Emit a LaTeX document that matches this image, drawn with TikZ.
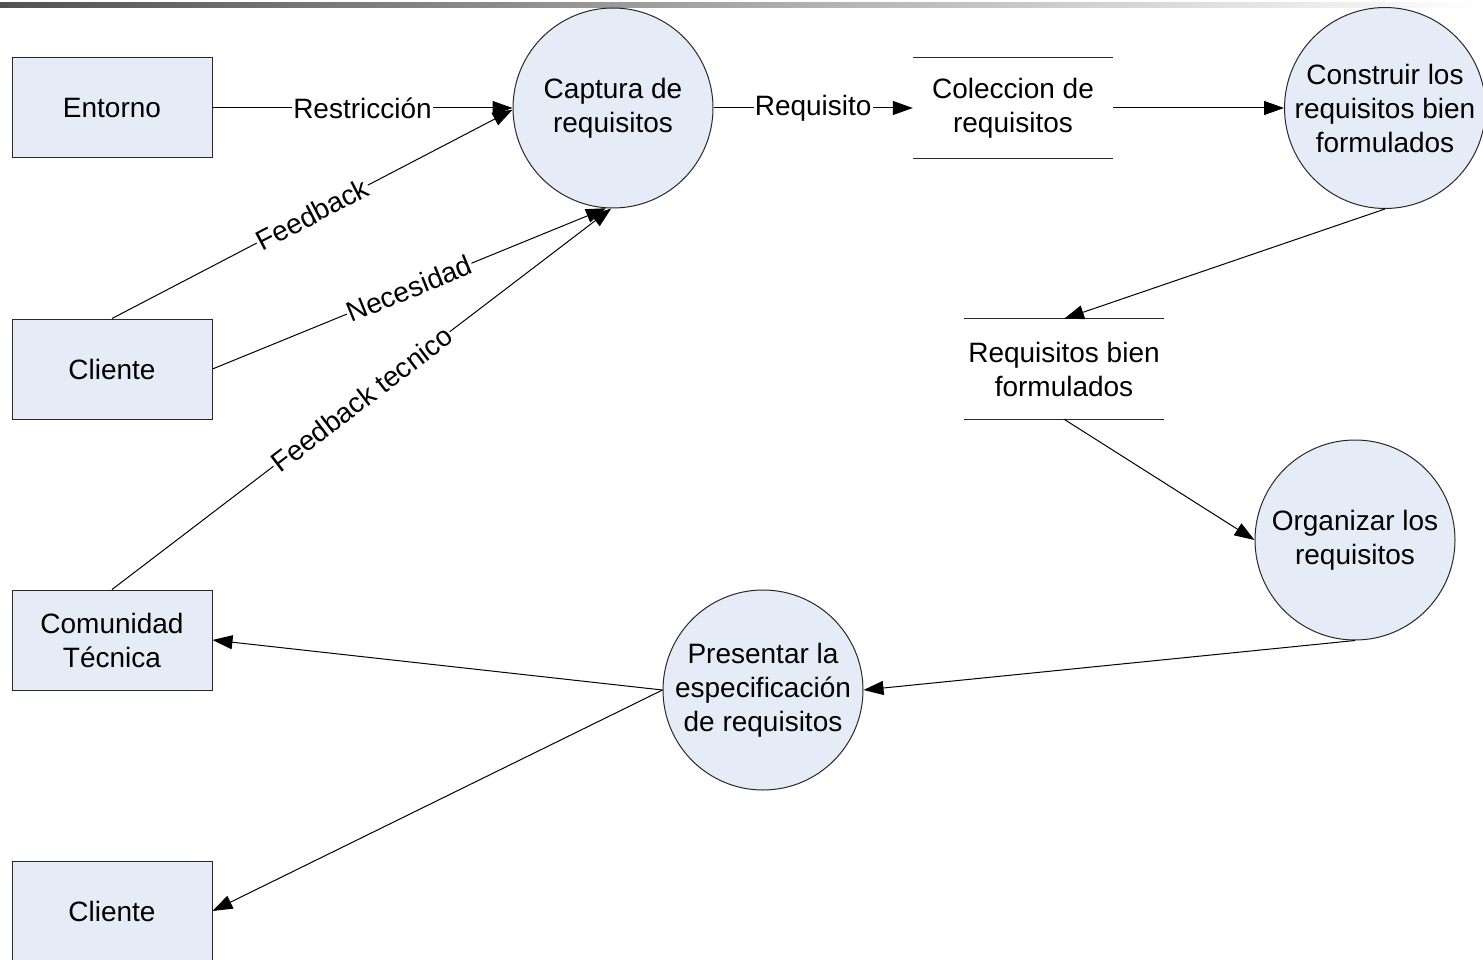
\documentclass[tikz,border=0pt]{standalone}
\usepackage{fontspec}
\setmainfont{Liberation Sans}
\usetikzlibrary{arrows.meta}
\definecolor{boxfill}{RGB}{230,236,247}
\definecolor{edge}{RGB}{40,40,40}
\tikzset{
  ent/.style={draw=edge, line width=1pt, fill=boxfill, minimum width=200pt, minimum height=100pt, inner sep=0pt, align=center},
  proc/.style={circle, draw=edge, line width=1pt, fill=boxfill, minimum size=200pt, inner sep=0pt, align=center},
  store/.style={minimum width=200pt, minimum height=100pt, inner sep=0pt, align=center},
  storeline/.style={line width=1pt, draw=edge},
  flow/.style={line width=1pt, -{Triangle[length=20pt,width=14pt]}},
  lbl/.style={midway, fill=white, inner sep=1pt},
}
\begin{document}
\begin{tikzpicture}[x=1pt, y=-1pt, font=\fontsize{28}{34}\selectfont]
\useasboundingbox (0,0) rectangle (1483,960);
\clip (0,0) rectangle (1483,960);
\shade[left color=black!68, right color=white] (0,2.5) rectangle (1483,7.5);

\node[ent] (ent) at (112,108) {Entorno};
\node[ent] (cli) at (112,369) {Cliente};
\node[ent] (com) at (112,640) {Comunidad\\Técnica};
\node[ent] (cli2) at (112,911) {Cliente};

\node[proc] (capt) at (613,108) {Captura de\\requisitos};
\node[proc] (cons) at (1385,108) {Construir los\\requisitos bien\\formulados};
\node[proc] (org) at (1355,540) {Organizar los\\requisitos};
\node[proc] (pres) at (763,690) {Presentar la\\especificación\\de requisitos};

\node[store] (col) at (1013,108) {Coleccion de\\requisitos};
\draw[storeline] (col.north west) -- (col.north east);
\draw[storeline] (col.south west) -- (col.south east);
\node[store] (req) at (1064,369) {Requisitos bien\\formulados};
\draw[storeline] (req.north west) -- (req.north east);
\draw[storeline] (req.south west) -- (req.south east);

\draw[flow] (ent.east) -- node[lbl] {Restricción} (capt.west);
\draw[flow] (cli.north) -- node[lbl, sloped] {Feedback} (capt.181);
\draw[flow] (cli.east) -- node[lbl, sloped] {Necesidad} (capt.266);
\draw[flow] (com.north) -- node[lbl, sloped] {Feedback tecnico} (capt.269);
\draw[flow] (capt.east) -- node[lbl] {Requisito} (col.west);
\draw[flow] (col.east) -- (cons.west);
\draw[flow] (cons.south) -- (req.north);
\draw[flow] (req.south) -- (org.west);
\draw[flow] (org.south) -- (pres.east);
\draw[flow] (pres.west) -- (com.east);
\draw[flow] (pres.west) -- (cli2.east);
\end{tikzpicture}
\end{document}
